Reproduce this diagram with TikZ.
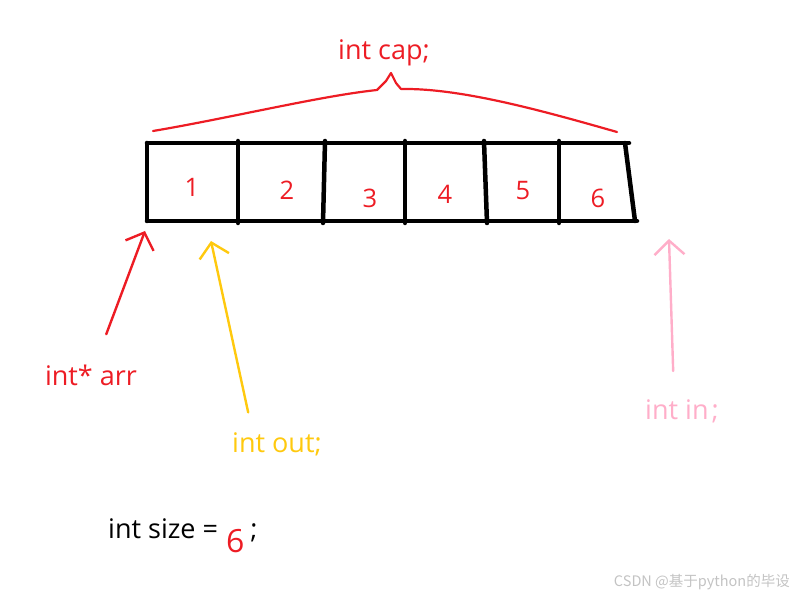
\documentclass[tikz,border=0pt]{standalone}
\usepackage{fontspec}
\setmainfont{Open Sans}
\newfontfamily\cjkfont{Noto Sans CJK SC}
\usetikzlibrary{arrows.meta}
\definecolor{paintred}{HTML}{ED1C24}
\definecolor{paintyellow}{HTML}{FFC90E}
\definecolor{paintpink}{HTML}{FFAEC9}
\definecolor{markgray}{HTML}{C3C3C3}

\begin{document}
\begin{tikzpicture}
  [x=1pt,y=-1pt,line join=round,
   every node/.style={inner sep=2pt,font=\fontsize{27}{32}\selectfont},
   wall/.style={line width=4.5pt,line cap=round},
   digit/.style={text=paintred,font=\fontsize{25.5}{30}\selectfont},
   ptr/.style={line width=2.4pt,line cap=round,-{Straight Barb[length=14pt,width=30pt]}}]
  \useasboundingbox (0,0) rectangle (804,596);

  % the array
  \draw[wall] (147,143) -- (629,143);
  \draw[wall] (147,221) -- (637,221);
  \draw[wall] (147,143) -- (147,221);
  \draw[wall] (625,143) -- (635,221);
  \foreach \top/\bot in {238/238,325/323,405/405,484/487,559/559}
    \draw[wall] (\top,141) -- (\bot,223);

  \foreach \n/\x/\y in {1/192/187,2/287/190,3/370/198,4/445/194,5/523/191,6/598/198}
    \node[digit] (c\n) at (\x,\y) {\n};

  % capacity brace
  \node[text=paintred,anchor=base] (cap) at (384,60) {int cap;};
  \draw[paintred,line width=2.2pt,line cap=round]
    (153,131) .. controls (230,118) and (320,96) .. (377,90)
    -- (386,81) -- (391,73) -- (396,83) -- (401,89)
    .. controls (460,88) and (540,110) .. (617,132);

  % pointers
  \node[text=paintred,anchor=base] (arr) at (91,385) {int* arr};
  \node[text=paintyellow,anchor=base] (outidx) at (277,452) {int out;};
  \node[text=paintpink,anchor=base] (inidx) at (682,419) {int in\kern3pt;};

  \coordinate (arrtip) at (145,231);
  \coordinate (outtip) at (211,241);
  \coordinate (intip) at (669,239);

  \draw[ptr,paintred,shorten <=30pt] (arr) -- (arrtip);
  \draw[ptr,paintyellow,shorten <=18pt] ([xshift=-25pt]outidx.north) -- (outtip);
  \draw[ptr,paintpink,shorten <=26pt] ([xshift=-8pt]inidx.north) -- (intip);

  \node[anchor=base west] (size) at (106,538)
    {int size =\kern8pt\raisebox{-14pt}{\textcolor{paintred}{\fontsize{32}{34}\selectfont 6}}\kern6pt;};

  \node[text=markgray,font=\cjkfont\fontsize{14.5}{16}\selectfont,anchor=base east] (mark)
    at (792,586) {CSDN @基于python的毕设};

\end{tikzpicture}
\end{document}
